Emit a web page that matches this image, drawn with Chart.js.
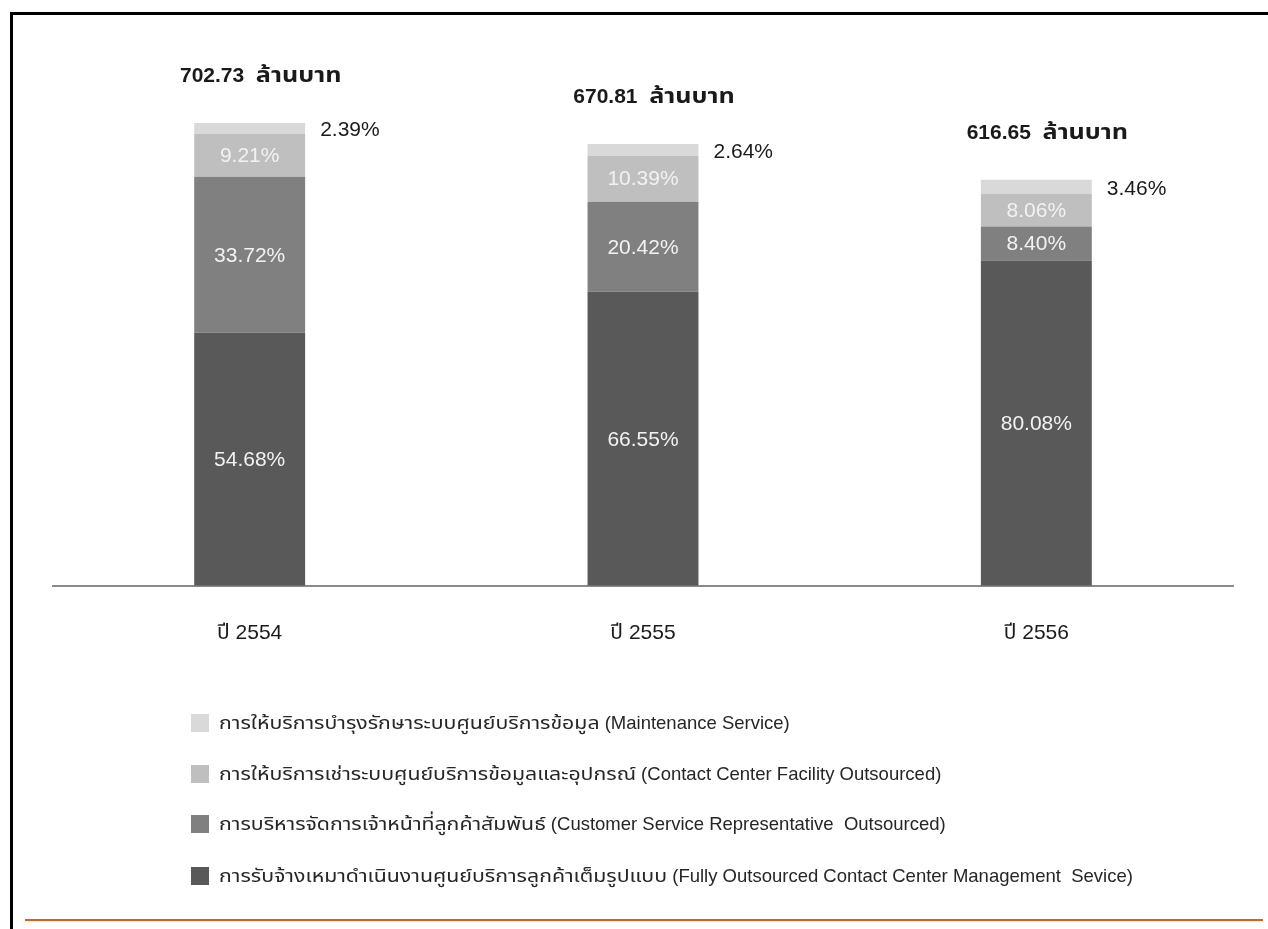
<!DOCTYPE html>
<html>
<head>
<meta charset="utf-8">
<script src="https://cdn.jsdelivr.net/npm/chart.js@4.4.1/dist/chart.umd.min.js"></script>
<style>
  html, body { margin: 0; padding: 0; background: #ffffff; }
  #wrap { width: 1268px; height: 929px; position: relative; }
</style>
</head>
<body>
<div id="wrap"><canvas id="c" width="1268" height="929"></canvas></div>
<script>
// ---- data ----
const categories = ['ปี 2554', 'ปี 2555', 'ปี 2556'];
const totals = [702.73, 670.81, 616.65];               // ล้านบาท
const totalLabels = ['702.73  ล้านบาท', '670.81  ล้านบาท', '616.65  ล้านบาท'];
const pctFully = [54.68, 66.55, 80.08];
const pctCSR = [33.72, 20.42, 8.40];
const pctFacility = [9.21, 10.39, 8.06];
const pctMaint = [2.39, 2.64, 3.46];
const seriesNames = [
  'การรับจ้างเหมาดำเนินงานศูนย์บริการลูกค้าเต็มรูปแบบ (Fully Outsourced Contact Center Management  Sevice)',
  'การบริหารจัดการเจ้าหน้าที่ลูกค้าสัมพันธ์ (Customer Service Representative  Outsourced)',
  'การให้บริการเช่าระบบศูนย์บริการข้อมูลและอุปกรณ์ (Contact Center Facility Outsourced)',
  'การให้บริการบำรุงรักษาระบบศูนย์บริการข้อมูล (Maintenance Service)'
];
const seriesPct = [pctFully, pctCSR, pctFacility, pctMaint];
const seriesColors = ['#595959', '#808080', '#bfbfbf', '#d9d9d9'];

const FONT = "'Liberation Sans', Arial, 'Noto Sans Thai', 'Noto Sans', sans-serif";

const datasets = seriesPct.map((pct, k) => ({
  label: seriesNames[k],
  pct: pct,
  data: pct.map((p, i) => totals[i] * p / 100),
  backgroundColor: seriesColors[k],
  borderWidth: 0,
  categoryPercentage: 1.0,
  barPercentage: 0.282
}));

// draw text with Thai runs stretched horizontally
function drawMixed(ctx, text, x, y, thaiScale, align) {
  const parts = text.match(/[\u0E00-\u0E7F]+|[^\u0E00-\u0E7F]+/g) || [];
  const widths = parts.map(p => ctx.measureText(p).width * (/[\u0E00-\u0E7F]/.test(p) ? thaiScale : 1));
  const total = widths.reduce((a, b) => a + b, 0);
  let cx = align === 'center' ? x - total / 2 : x;
  ctx.textAlign = 'left';
  parts.forEach((p, i) => {
    if (/[\u0E00-\u0E7F]/.test(p)) {
      ctx.save();
      ctx.translate(cx, y);
      ctx.scale(thaiScale, 1);
      ctx.fillText(p, 0, 0);
      ctx.restore();
    } else {
      ctx.fillText(p, cx, y);
    }
    cx += widths[i];
  });
}

const labelPlugin = {
  id: 'labels',
  afterDatasetsDraw(chart) {
    const ctx = chart.ctx;
    ctx.save();
    chart.data.datasets.forEach((ds, k) => {
      const meta = chart.getDatasetMeta(k);
      meta.data.forEach((el, i) => {
        const txt = ds.pct[i].toFixed(2) + '%';
        const cy = (el.y + el.base) / 2;
        ctx.font = '21px ' + FONT;
        ctx.textBaseline = 'middle';
        if (k === 3) {
          ctx.fillStyle = '#1a1a1a';
          ctx.textAlign = 'left';
          ctx.fillText(txt, el.x + el.width / 2 + 15, cy + 2);
        } else {
          ctx.fillStyle = '#f2f2f2';
          ctx.textAlign = 'center';
          ctx.fillText(txt, el.x, cy + 1);
        }
      });
    });
    // totals above bars
    const top = chart.getDatasetMeta(3);
    top.data.forEach((el, i) => {
      ctx.font = 'bold 21px ' + FONT;
      ctx.fillStyle = '#1a1a1a';
      ctx.textBaseline = 'middle';
      drawMixed(ctx, totalLabels[i], el.x + 11, el.y - 47, 1.2, 'center');
    });
    ctx.restore();
  },
  afterDraw(chart) {
    const ctx = chart.ctx;
    ctx.save();
    // frame
    ctx.fillStyle = '#000000';
    ctx.fillRect(10, 12, 1258, 3);
    ctx.fillRect(10, 12, 3, 917);
    // orange line
    ctx.fillStyle = '#d4621c';
    ctx.fillRect(25, 919, 1238, 2);
    // legend (top series first)
    const rows = [723, 774, 824, 876];
    for (let r = 0; r < 4; r++) {
      const k = 3 - r;
      const ds = chart.data.datasets[k];
      ctx.fillStyle = ds.backgroundColor;
      ctx.fillRect(191, rows[r] - 9, 18, 18);
      ctx.font = '18.5px ' + FONT;
      ctx.fillStyle = '#262626';
      ctx.textBaseline = 'middle';
      drawMixed(ctx, ds.label, 219, rows[r] + 1, 1.15, 'left');
    }
    ctx.restore();
  }
};

new Chart(document.getElementById('c'), {
  type: 'bar',
  data: { labels: categories, datasets: datasets },
  options: {
    responsive: false,
    animation: false,
    devicePixelRatio: 1,
    layout: { padding: { left: 53, right: 35, top: 59, bottom: 248 } },
    plugins: { legend: { display: false }, tooltip: { enabled: false } },
    scales: {
      x: {
        stacked: true,
        grid: { display: false, drawTicks: false },
        border: { display: true, color: '#8a8a8a', width: 2 },
        ticks: { color: '#1a1a1a', font: { family: FONT, size: 21 }, padding: 35 }
      },
      y: {
        stacked: true,
        display: false,
        min: 0,
        max: 800
      }
    }
  },
  plugins: [labelPlugin]
});
</script>
</body>
</html>
